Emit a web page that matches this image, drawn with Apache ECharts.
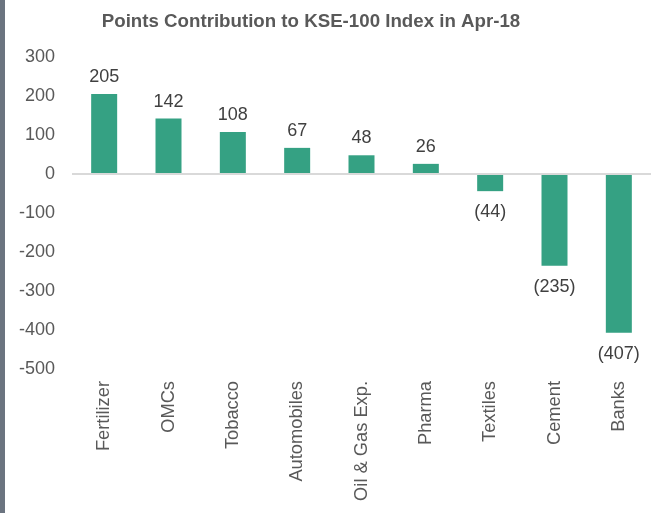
<!DOCTYPE html>
<html>
<head>
<meta charset="utf-8">
<script src="https://cdn.jsdelivr.net/npm/echarts@6/dist/echarts.min.js"></script>
<style>
  html, body {margin: 0; padding: 0; background: #fff;}
  #chart {width: 659px; height: 513px;}
</style>
</head>
<body>
<div id="chart"></div>
<script>
const sectors = ['Fertilizer', 'OMCs', 'Tobacco', 'Automobiles', 'Oil & Gas Exp.', 'Pharma', 'Textiles', 'Cement', 'Banks']
const points = [205, 142, 108, 67, 48, 26, -44, -235, -407]

const fmt = v => v < 0 ? '(' + Math.abs(v) + ')' : String(v)

const myChart = echarts.init(document.getElementById('chart'))
myChart.setOption({
  animation: false,
  textStyle: {fontFamily: 'Liberation Sans, Arial, sans-serif'},
  title: {
    text: 'Points Contribution to KSE-100 Index in Apr-18',
    left: 306, top: 7, textAlign: 'center',
    textStyle: {fontSize: 18.7, fontWeight: 'bold', color: '#595959'}
  },
  graphic: [{
    type: 'rect', left: 0, top: 0,
    shape: {width: 5, height: 513},
    style: {fill: '#6b7480'}
  }],
  grid: {left: 72, right: 8, top: 57, bottom: 144},
  xAxis: {
    type: 'category',
    data: sectors,
    axisLine: {show: false},
    axisTick: {show: false},
    axisLabel: {rotate: 90, margin: 12, fontSize: 18.3, color: '#595959', interval: 0}
  },
  yAxis: {
    type: 'value',
    min: -500, max: 300, interval: 100,
    axisLine: {show: false},
    axisTick: {show: false},
    splitLine: {show: false},
    axisLabel: {margin: 17, fontSize: 18, color: '#595959'}
  },
  series: [{
    type: 'bar',
    barWidth: 26,
    itemStyle: {color: '#35A183'},
    data: points.map(v => ({
      value: v,
      label: {position: v < 0 ? 'bottom' : 'top', distance: v < 0 ? 12 : 8}
    })),
    label: {
      show: true,
      fontSize: 18,
      color: '#404040',
      formatter: p => fmt(p.value)
    },
    markLine: {
      silent: true,
      symbol: 'none',
      label: {show: false},
      lineStyle: {color: '#d9d9d9', width: 2, type: 'solid'},
      data: [{yAxis: 0}]
    }
  }]
})
</script>
</body>
</html>
